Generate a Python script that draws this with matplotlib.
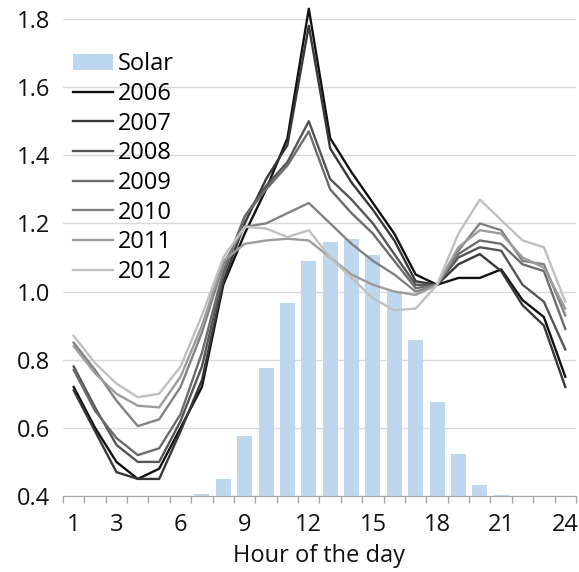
import matplotlib
matplotlib.use("Agg")
import matplotlib.pyplot as plt
import numpy as np

# hour of the day (category axis)
hours = np.arange(1, 25)
tick_hours = [1, 3, 6, 9, 12, 15, 18, 21, 24]

# solar profile (read in the units of the left axis, bars start at 0.4)
solar = [0.40, 0.40, 0.40, 0.40, 0.40, 0.40, 0.405, 0.45, 0.577, 0.776, 0.967, 1.089,
         1.145, 1.155, 1.106, 1.003, 0.857, 0.677, 0.523, 0.432, 0.402, 0.40, 0.40, 0.40]

y2006 = [0.72, 0.60, 0.50, 0.45, 0.48, 0.60, 0.72, 1.02, 1.17, 1.30, 1.45, 1.83,
         1.45, 1.35, 1.26, 1.17, 1.05, 1.02, 1.04, 1.04, 1.065, 0.975, 0.925, 0.75]
y2007 = [0.71, 0.59, 0.47, 0.45, 0.45, 0.59, 0.74, 1.03, 1.20, 1.33, 1.43, 1.78,
         1.42, 1.32, 1.24, 1.15, 1.03, 1.02, 1.08, 1.11, 1.06, 0.96, 0.90, 0.72]
y2008 = [0.78, 0.66, 0.55, 0.50, 0.50, 0.62, 0.78, 1.05, 1.22, 1.31, 1.38, 1.50,
         1.33, 1.27, 1.20, 1.11, 1.02, 1.02, 1.10, 1.13, 1.12, 1.02, 0.97, 0.83]
y2009 = [0.77, 0.65, 0.57, 0.52, 0.54, 0.64, 0.82, 1.06, 1.22, 1.30, 1.37, 1.47,
         1.30, 1.23, 1.17, 1.09, 1.01, 1.02, 1.11, 1.15, 1.14, 1.08, 1.06, 0.89]
y2010 = [0.85, 0.77, 0.68, 0.605, 0.625, 0.72, 0.88, 1.08, 1.19, 1.20, 1.23, 1.26,
         1.20, 1.14, 1.09, 1.05, 1.00, 1.02, 1.12, 1.20, 1.18, 1.09, 1.08, 0.93]
y2011 = [0.84, 0.76, 0.70, 0.665, 0.66, 0.75, 0.90, 1.09, 1.14, 1.15, 1.155, 1.15,
         1.10, 1.05, 1.02, 1.00, 0.99, 1.02, 1.13, 1.18, 1.17, 1.10, 1.07, 0.95]
y2012 = [0.87, 0.79, 0.73, 0.69, 0.70, 0.78, 0.93, 1.10, 1.19, 1.185, 1.16, 1.18,
         1.10, 1.04, 0.98, 0.945, 0.95, 1.02, 1.17, 1.27, 1.21, 1.15, 1.13, 0.97]

years = ["2006", "2007", "2008", "2009", "2010", "2011", "2012"]
series = [y2006, y2007, y2008, y2009, y2010, y2011, y2012]
greys = ["#111111", "#383838", "#555555", "#6c6c6c", "#828282", "#9c9c9c", "#c0c0c0"]

plt.rcParams['font.family'] = ['Open Sans', 'DejaVu Sans']
plt.rcParams['font.size'] = 17

fig = plt.figure(figsize=(5.79, 5.72), dpi=100)
ax = fig.add_axes([0.1088, 0.1329, 0.8860, 0.8339])

ymin = 0.4
bars = ax.bar(hours, np.array(solar) - ymin, bottom=ymin, width=0.7, color="#bdd7ee",
              label="Solar", zorder=2)
lines = []
for yr, vals, c in zip(years, series, greys):
    ln, = ax.plot(hours, vals, color=c, lw=1.7, label=yr, zorder=3, clip_on=False)
    lines.append(ln)

ax.set_xlim(0.5, 24.5)
ax.set_ylim(0.4, 1.8)
ax.set_yticks(np.arange(0.4, 1.81, 0.2))
ax.set_yticklabels([f"{v:.1f}" for v in np.arange(0.4, 1.81, 0.2)])
ax.set_xticks(tick_hours)
ax.set_xticks(np.arange(0.5, 25, 1), minor=True)
ax.tick_params(axis="x", which="major", length=0, pad=12, labelcolor="#111111")
ax.tick_params(axis="x", which="minor", length=5, color="#a6a6a6", width=1)
ax.tick_params(axis="y", length=0, pad=9, labelcolor="#111111")
ax.yaxis.grid(True, color="#d9d9d9", lw=1, zorder=0)
ax.set_axisbelow(True)
for s in ["top", "right", "left"]:
    ax.spines[s].set_visible(False)
ax.spines["bottom"].set_color("#a6a6a6")
ax.set_xlabel("Hour of the day", labelpad=5, color="#111111")

ax.legend([bars] + lines, ["Solar"] + years, loc="upper left",
          bbox_to_anchor=(0.02, 0.93), frameon=False,
          handlelength=1.7, handletextpad=0.17, labelspacing=0.24, borderpad=0,
          borderaxespad=0)

fig.savefig("out.png", dpi=100)
